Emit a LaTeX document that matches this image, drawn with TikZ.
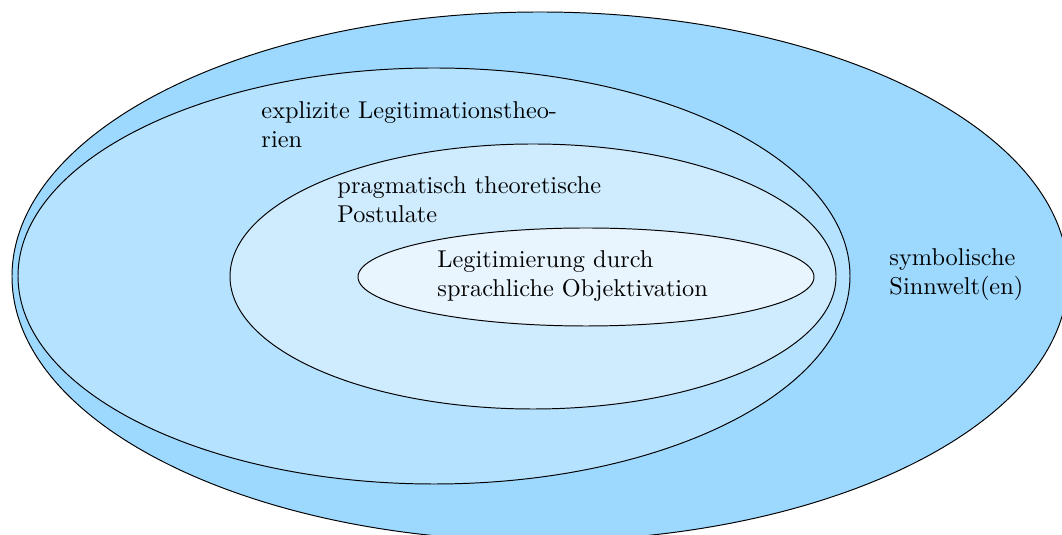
\documentclass[tikz,border=0pt]{standalone}
\usetikzlibrary{shapes.geometric}
\definecolor{ringOuter}{RGB}{157,216,255}
\definecolor{ringTwo}{RGB}{181,227,255}
\definecolor{ringThree}{RGB}{207,235,254}
\definecolor{ringInner}{RGB}{232,245,254}
\begin{document}
\begin{tikzpicture}[x=0.4113pt,y=-0.4113pt,
  ring/.style={ellipse, draw=black, line width=0.4pt, inner sep=0pt},
  label/.style={align=left, anchor=base west, inner sep=0pt}]
\useasboundingbox (0,0) rectangle (1062,535);
% nested areas, from the widest inwards
\node[ring, fill=ringOuter, minimum width={1056*0.4113pt}, minimum height={529*0.4113pt}] (sinnwelt) at (540,276.5) {};
\node[ring, fill=ringTwo, minimum width={832*0.4113pt}, minimum height={416*0.4113pt}] (theorien) at (434,276) {};
\node[ring, fill=ringThree, minimum width={606*0.4113pt}, minimum height={265*0.4113pt}] (postulate) at (533,276.5) {};
\node[ring, fill=ringInner, minimum width={456*0.4113pt}, minimum height={98*0.4113pt}] (sprache) at (586,277) {};
% labels (anchored at the baseline of their last line)
\node[label] (tTheorien) at (261,148) {explizite Legitimationstheo-\\rien};
\node[label] (tPostulate) at (337,223) {pragmatisch theoretische\\Postulate};
\node[label] (tSprache) at (437,297) {Legitimierung durch\\sprachliche Objektivation};
\node[label] (tSinnwelt) at (889,295) {symbolische\\Sinnwelt(en)};
\end{tikzpicture}
\end{document}
